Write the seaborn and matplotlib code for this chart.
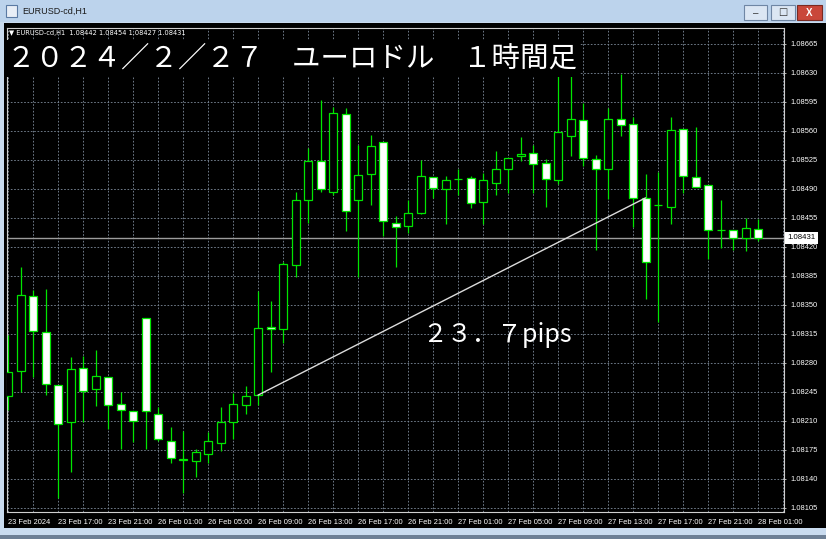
import numpy as np
import pandas as pd
import matplotlib
matplotlib.use("Agg")
import matplotlib.pyplot as plt
import matplotlib.transforms as mtransforms
from matplotlib.patches import Rectangle
import seaborn as sns

# EURUSD-cd H1 candles, 23 Feb 13:00 -> 28 Feb 01:00
opens = [1.08240, 1.08270, 1.08361, 1.08317, 1.08253, 1.08208, 1.08274, 1.08249, 1.08263, 1.08230,
         1.08222, 1.08334, 1.08218, 1.08186, 1.08163, 1.08162, 1.08170, 1.08183, 1.08209, 1.08229,
         1.08241, 1.08323, 1.08321, 1.08398, 1.08476, 1.08523, 1.08486, 1.08580, 1.08476, 1.08508,
         1.08546, 1.08449, 1.08445, 1.08461, 1.08504, 1.08490, 1.08502, 1.08503, 1.08474, 1.08497,
         1.08514, 1.08529, 1.08533, 1.08521, 1.08500, 1.08554, 1.08573, 1.08526, 1.08514, 1.08574,
         1.08568, 1.08479, 1.08470, 1.08468, 1.08562, 1.08504, 1.08494, 1.08440, 1.08440, 1.08431,
         1.08442]
highs = [1.08314, 1.08396, 1.08368, 1.08369, 1.08253, 1.08287, 1.08288, 1.08296, 1.08263, 1.08245,
         1.08222, 1.08334, 1.08227, 1.08202, 1.08198, 1.08176, 1.08196, 1.08227, 1.08243, 1.08252,
         1.08367, 1.08355, 1.08402, 1.08486, 1.08539, 1.08597, 1.08589, 1.08587, 1.08543, 1.08555,
         1.08546, 1.08457, 1.08476, 1.08525, 1.08504, 1.08506, 1.08514, 1.08506, 1.08509, 1.08535,
         1.08527, 1.08553, 1.08543, 1.08526, 1.08628, 1.08636, 1.08594, 1.08531, 1.08588, 1.08629,
         1.08577, 1.08508, 1.08510, 1.08577, 1.08562, 1.08565, 1.08494, 1.08476, 1.08440, 1.08455,
         1.08454]
lows = [1.08223, 1.08245, 1.08263, 1.08241, 1.08117, 1.08148, 1.08208, 1.08228, 1.08200, 1.08176,
        1.08185, 1.08176, 1.08186, 1.08159, 1.08123, 1.08142, 1.08159, 1.08174, 1.08188, 1.08218,
        1.08229, 1.08269, 1.08304, 1.08384, 1.08449, 1.08486, 1.08483, 1.08439, 1.08384, 1.08470,
        1.08433, 1.08396, 1.08437, 1.08460, 1.08479, 1.08448, 1.08483, 1.08467, 1.08448, 1.08482,
        1.08485, 1.08524, 1.08485, 1.08468, 1.08496, 1.08529, 1.08517, 1.08416, 1.08478, 1.08554,
        1.08444, 1.08357, 1.08329, 1.08447, 1.08485, 1.08492, 1.08405, 1.08419, 1.08416, 1.08415,
        1.08427]
closes = [1.08269, 1.08362, 1.08319, 1.08255, 1.08206, 1.08273, 1.08246, 1.08264, 1.08229, 1.08223,
          1.08210, 1.08222, 1.08188, 1.08165, 1.08163, 1.08173, 1.08186, 1.08209, 1.08230, 1.08240,
          1.08322, 1.08321, 1.08399, 1.08476, 1.08523, 1.08490, 1.08582, 1.08463, 1.08507, 1.08542,
          1.08451, 1.08444, 1.08461, 1.08506, 1.08491, 1.08501, 1.08502, 1.08473, 1.08500, 1.08514,
          1.08527, 1.08532, 1.08520, 1.08502, 1.08559, 1.08574, 1.08527, 1.08514, 1.08574, 1.08567,
          1.08479, 1.08402, 1.08470, 1.08561, 1.08506, 1.08492, 1.08440, 1.08440, 1.08431, 1.08443,
          1.08431]

time_labels = ["23 Feb 2024", "23 Feb 17:00", "23 Feb 21:00", "26 Feb 01:00", "26 Feb 05:00",
               "26 Feb 09:00", "26 Feb 13:00", "26 Feb 17:00", "26 Feb 21:00", "27 Feb 01:00",
               "27 Feb 05:00", "27 Feb 09:00", "27 Feb 13:00", "27 Feb 17:00", "27 Feb 21:00",
               "28 Feb 01:00"]
price_ticks = [1.08105, 1.08140, 1.08175, 1.08210, 1.08245, 1.08280, 1.08315, 1.08350, 1.08385,
               1.08420, 1.08455, 1.08490, 1.08525, 1.08560, 1.08595, 1.08630, 1.08665]

trend_start, trend_end = 20, 51   # bars the trend line joins (at their open)
title = "２０２４／２／２７　ユーロドル　１時間足"
pips_note = "２３．７pips"

df = pd.DataFrame({"open": opens, "high": highs, "low": lows, "close": closes})
df["bar"] = np.arange(len(df))
df["body_low"] = df[["open", "close"]].min(axis=1)
df["body_h"] = (df["close"] - df["open"]).abs().clip(lower=0.000004)
df["fill"] = np.where(df["close"] >= df["open"], "black", "white")

sns.set_theme(style="dark")
plt.rcParams["font.family"] = ["Liberation Sans", "Noto Sans CJK JP", "DejaVu Sans"]

W, H = 826, 539
fig = plt.figure(figsize=(W / 100, H / 100), dpi=100, facecolor="#c9dbef")


def box(x0, y0, x1, y1, **kw):
    # rectangle in pixel coords measured from the top-left corner, behind the axes
    fig.patches.append(Rectangle((x0 / W, 1 - y1 / H), (x1 - x0) / W, (y1 - y0) / H,
                                 transform=fig.transFigure, zorder=-10, **kw))


# window chrome
box(0, 0, W, 22, fc="#bcd3ec", ec="none")
box(4, 23, W, 528, fc="black", ec="none")
box(0, 535, W, H, fc="#6d7f95", ec="none")
box(6, 5, 17, 17, fc="#e8eef6", ec="#5b7aa3", lw=0.8)
fig.text(22 / W, 1 - 11.5 / H, "EURUSD-cd,H1", fontsize=6.5, color="#1a1a1a", va="center")
box(744, 5, 767, 20, fc="#dbe6f3", ec="#6f86a4", lw=0.8)
box(771, 5, 795, 20, fc="#dbe6f3", ec="#6f86a4", lw=0.8)
box(797, 5, 822, 20, fc="#c9473a", ec="#7a2a22", lw=0.8)
fig.text(755.5 / W, 1 - 13 / H, "–", fontsize=7, color="#333333", ha="center", va="center")
fig.text(783 / W, 1 - 12.5 / H, "□", fontsize=7, color="#333333", ha="center", va="center",
         family="DejaVu Sans")
fig.text(809.5 / W, 1 - 12.5 / H, "X", fontsize=7, color="white", ha="center", va="center",
         weight="bold")

ax = fig.add_axes([7 / W, 1 - 512 / H, 777 / W, 484 / H])
ax.set_facecolor("black")

candle = "#00e600"
ax.vlines(df["bar"], df["low"], df["high"], color=candle, lw=0.9, zorder=3)
ax.bar(df["bar"], df["body_h"], bottom=df["body_low"], width=0.64, color=df["fill"],
       edgecolor=candle, linewidth=0.9, zorder=4)

# current price line
ax.axhline(closes[-1], color="#9c9c9c", lw=1.0, zorder=2)

# trend line measured in the chart
sns.lineplot(x=[trend_start, trend_end], y=[opens[trend_start], opens[trend_end]], ax=ax,
             color="#dcdcdc", lw=1.0, zorder=5)

ax.set_xlim(-0.08, 62.08)
ax.set_ylim(1.08100, 1.08684)

ax.set_xticks(np.arange(0, len(df), 4))
ax.set_xticklabels(time_labels, ha="left")
ax.set_xticks(np.arange(2, len(df) + 2, 4), minor=True)
ax.yaxis.tick_right()
ax.set_yticks(price_ticks)
ax.set_yticklabels([f"{p:.5f}" for p in price_ticks])
ax.tick_params(axis="both", which="both", colors="#b0b0b0", labelcolor="white",
               labelsize=5.4, length=3, width=0.7)
ax.tick_params(axis="y", direction="inout", pad=3)
ax.tick_params(axis="x", which="both", direction="out", pad=2)
ax.grid(True, which="both", color="#7f8c9c", ls=(0, (2, 2)), lw=0.6)
for s in ax.spines.values():
    s.set_color("#cfcfcf")
    s.set_linewidth(0.8)

# price tag on the right scale
tag = mtransforms.blended_transform_factory(ax.transAxes, ax.transData)
ax.text(1.004, closes[-1], f"{closes[-1]:.5f}", transform=tag, ha="left", va="center",
        fontsize=5.6, color="black", clip_on=False,
        bbox=dict(boxstyle="square,pad=0.3", fc="white", ec="none"))

# header line with the last bar's OHLC
ax.text(0.003, 0.995, f"▼ EURUSD-cd,H1  {opens[-1]:.5f} {highs[-1]:.5f} {lows[-1]:.5f} {closes[-1]:.5f}",
        transform=ax.transAxes, ha="left", va="top", fontsize=4.8, color="white",
        family=["DejaVu Sans"], zorder=6)

ax.text(0.0, 0.937, title, transform=ax.transAxes, ha="left", va="center", fontsize=20.5,
        color="white", family=["Noto Sans CJK JP", "DejaVu Sans"], zorder=3.5,
        bbox=dict(boxstyle="square,pad=0.12", fc="black", ec="none"))
ax.text(0.535, 0.365, pips_note, transform=ax.transAxes, ha="left", va="center", fontsize=18,
        color="white", family=["Noto Sans CJK JP", "DejaVu Sans"], zorder=6)

fig.savefig("out.png", dpi=100, facecolor=fig.get_facecolor())
